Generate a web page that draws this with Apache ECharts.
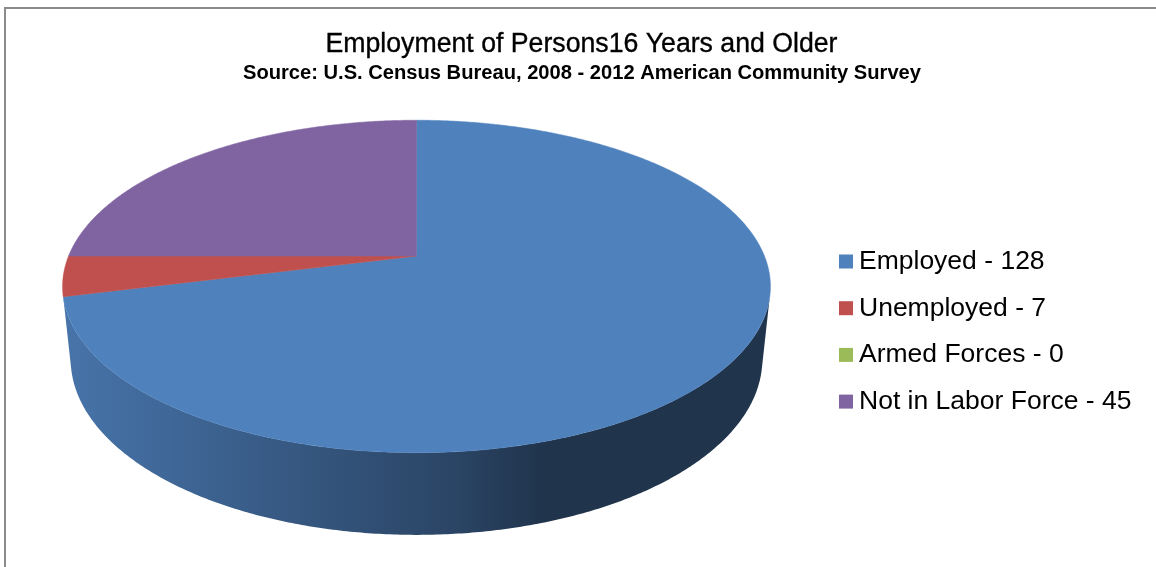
<!DOCTYPE html>
<html><head><meta charset="utf-8">
<script src="https://cdn.jsdelivr.net/npm/echarts@6/dist/echarts.min.js"></script>
<style>html,body{margin:0;padding:0;background:#fff}#c{width:1156px;height:567px}</style>
</head><body><div id="c"></div>
<script>
// ---- data ----
const categories = ['Employed', 'Unemployed', 'Armed Forces', 'Not in Labor Force'];
const values = [128, 7, 0, 45];
const colors = ['#4F81BD', '#C0504D', '#9BBB59', '#8064A2'];
const titleText = 'Employment of Persons16 Years and Older';
const subtitleText = 'Source: U.S. Census Bureau, 2008 - 2012 American Community Survey';
const legendLabels = categories.map((c, i) => c + ' - ' + values[i]);

// ---- 3D view (layout) ----
const VIEW = { cx: 416.5, cy: 256, f: 1684, D: 4.84, tilt: 27.5 * Math.PI / 180, T: 0.238 };
const SIN = Math.sin(VIEW.tilt), COS = Math.cos(VIEW.tilt);
function proj(theta, Y) {
  const u = Math.sin(theta), v = -Math.cos(theta);
  const depth = VIEW.D - Y * SIN - v * COS;
  return [VIEW.cx + VIEW.f * u / depth, VIEW.cy - VIEW.f * (Y * COS - v * SIN) / depth];
}
// wall faces the camera where v > 1/(D cos)
const vFace = 1 / (VIEW.D * COS);
const frontA = Math.acos(-vFace), frontB = 2 * Math.PI - Math.acos(-vFace);

function shade(hex, k) {
  const n = parseInt(hex.slice(1), 16);
  const r = Math.round(((n >> 16) & 255) * k), g = Math.round(((n >> 8) & 255) * k), b = Math.round((n & 255) * k);
  return 'rgb(' + r + ',' + g + ',' + b + ')';
}

const total = values.reduce((a, b) => a + b, 0);
const starts = values.map((v, i) => values.slice(0, i).reduce((a, b) => a + b, 0));

function arc(t1, t2, Y) {
  const pts = [];
  const n = Math.max(2, Math.ceil((t2 - t1) / (Math.PI / 360)));
  for (let k = 0; k <= n; k++) pts.push(proj(t1 + (t2 - t1) * k / n, Y));
  return pts;
}

function makeRender(i) {
  return function (params, api) {
    const val = api.value(0);
    if (!val) return null;
    const t1 = starts[i] / total * 2 * Math.PI;
    const t2 = (starts[i] + val) / total * 2 * Math.PI;
    const children = [];
    const a = Math.max(t1, frontA), b = Math.min(t2, frontB);
    if (b > a) {
      const top = arc(a, b, 0);
      const bot = arc(a, b, -VIEW.T).reverse();
      children.push({
        type: 'polygon', z2: 1,
        shape: { points: top.concat(bot) },
        style: {
          fill: new echarts.graphic.LinearGradient(0, 0, 1, 0, [
            { offset: 0, color: shade(colors[i], 0.9) },
            { offset: 0.56, color: shade(colors[i], 0.53) },
            { offset: 0.68, color: shade(colors[i], 0.4) },
            { offset: 1, color: shade(colors[i], 0.4) }
          ]),
          stroke: null
        }
      });
    }
    const topPts = [[VIEW.cx, VIEW.cy]].concat(arc(t1, t2, 0));
    children.push({ type: 'polygon', z2: 5, shape: { points: topPts }, style: { fill: colors[i], stroke: colors[i], lineWidth: 0.5 } });
    return { type: 'group', children: children };
  };
}

const ctx = document.createElement('canvas').getContext('2d');
const titleFont = '27px "Liberation Sans", Arial, sans-serif';
const subFont = 'bold 20px "Liberation Sans", Arial, sans-serif';
ctx.font = titleFont; const titleW = ctx.measureText(titleText).width;
ctx.font = subFont; const subW = ctx.measureText(subtitleText).width;

const chart = echarts.init(document.getElementById('c'), null, { renderer: 'canvas' });
chart.setOption({
  animation: false,
  backgroundColor: '#fff',
  graphic: [
    { type: 'rect', shape: { x: 5, y: 8, width: 1300, height: 800 }, style: { fill: 'none', stroke: '#8a8a8a', lineWidth: 2 }, silent: true },
    { type: 'text', x: 581.5, y: 45, scaleX: 512 / titleW,
      style: { text: titleText, font: titleFont, fill: '#000', stroke: '#000', lineWidth: 0.35, textAlign: 'center', textVerticalAlign: 'middle', align: 'center', verticalAlign: 'middle' } },
    { type: 'text', x: 582, y: 73, scaleX: 678 / subW,
      style: { text: subtitleText, font: subFont, fill: '#000', textAlign: 'center', textVerticalAlign: 'middle', align: 'center', verticalAlign: 'middle' } }
  ],
  legend: {
    orient: 'vertical', left: 839, top: 248, padding: 0,
    itemWidth: 14, itemHeight: 14, itemGap: 19.7, icon: 'rect', selectedMode: false,
    data: legendLabels,
    textStyle: { fontSize: 26.5, fontFamily: '"Liberation Sans", Arial, sans-serif', color: '#000', lineHeight: 26, padding: [0, 0, 0, 1] }
  },
  series: categories.map((c, i) => ({
    type: 'custom', name: legendLabels[i], coordinateSystem: 'none', silent: true,
    itemStyle: { color: colors[i] },
    renderItem: makeRender(i),
    data: [[values[i]]]
  }))
});
</script></body></html>
